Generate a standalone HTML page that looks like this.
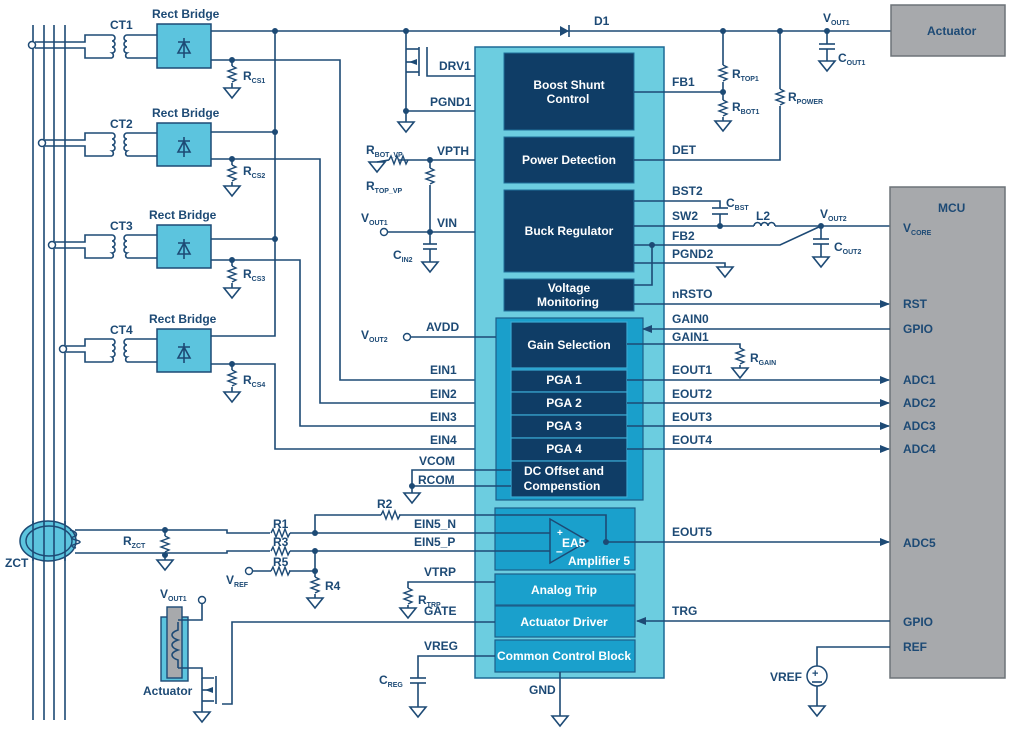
<!DOCTYPE html>
<html><head><meta charset="utf-8"><style>
body{margin:0;background:#fff}
svg{display:block}
text{font-family:"Liberation Sans",sans-serif;font-weight:bold;fill:#1d4a75;font-size:12px}
.w{fill:#fff}
.s{font-size:7px}
line,polyline,path.l{stroke:#1d4a75;stroke-width:1.6;fill:none}
.d{fill:#1d4a75}
</style></head><body>
<svg width="1022" height="740" viewBox="0 0 1022 740" xmlns="http://www.w3.org/2000/svg">
<defs>
<g id="gnd"><path d="M-8 0H8L0 10Z" style="stroke:#1d4a75;stroke-width:1.6;fill:none"/></g>
<g id="resv"><path d="M0 0l4 2-8 3 8 3-8 3 8 3-4 2" style="stroke:#1d4a75;stroke-width:1.4;fill:none"/></g>
<g id="resh"><path d="M0 0l2 -4 3 8 3-8 3 8 3-8 3 8 2-4" style="stroke:#1d4a75;stroke-width:1.4;fill:none"/></g>
<marker id="ar" markerWidth="10" markerHeight="8" refX="9" refY="4" orient="auto" markerUnits="userSpaceOnUse"><path d="M0 0L10 4L0 8Z" fill="#1d4a75"/></marker>
</defs>

<line x1="33" y1="25" x2="33" y2="720"/><line x1="44" y1="25" x2="44" y2="720"/><line x1="54" y1="25" x2="54" y2="720"/><line x1="65" y1="25" x2="65" y2="720"/>

<!-- CT1 -->
<circle cx="32" cy="45" r="3.5" fill="#fff" stroke="#1d4a75" stroke-width="1.5"/>
<polyline points="35,42 85,42 85,35 112,35"/><polyline points="35,48 85,48 85,58 112,58"/>
<path class="l" d="M112 35a3 3 0 0 1 0 6a3 3 0 0 1 0 6a3 3 0 0 1 0 6a3 3 0 0 1 0 5"/>
<path class="l" d="M127 35a3 3 0 0 0 0 6a3 3 0 0 0 0 6a3 3 0 0 0 0 6a3 3 0 0 0 0 5"/>
<polyline points="127,35 157,35"/><polyline points="127,58 157,58"/>
<text x="110" y="29">CT1</text>
<!-- CT2 -->
<circle cx="42" cy="143" r="3.5" fill="#fff" stroke="#1d4a75" stroke-width="1.5"/>
<polyline points="45,140 85,140 85,133 112,133"/><polyline points="45,146 85,146 85,156 112,156"/>
<path class="l" d="M112 133a3 3 0 0 1 0 6a3 3 0 0 1 0 6a3 3 0 0 1 0 6a3 3 0 0 1 0 5"/>
<path class="l" d="M127 133a3 3 0 0 0 0 6a3 3 0 0 0 0 6a3 3 0 0 0 0 6a3 3 0 0 0 0 5"/>
<polyline points="127,133 157,133"/><polyline points="127,156 157,156"/>
<text x="110" y="128">CT2</text>
<!-- CT3 -->
<circle cx="52" cy="245" r="3.5" fill="#fff" stroke="#1d4a75" stroke-width="1.5"/>
<polyline points="55,242 85,242 85,235 112,235"/><polyline points="55,248 85,248 85,258 112,258"/>
<path class="l" d="M112 235a3 3 0 0 1 0 6a3 3 0 0 1 0 6a3 3 0 0 1 0 6a3 3 0 0 1 0 5"/>
<path class="l" d="M127 235a3 3 0 0 0 0 6a3 3 0 0 0 0 6a3 3 0 0 0 0 6a3 3 0 0 0 0 5"/>
<polyline points="127,235 157,235"/><polyline points="127,258 157,258"/>
<text x="110" y="230">CT3</text>
<!-- CT4 -->
<circle cx="63" cy="349" r="3.5" fill="#fff" stroke="#1d4a75" stroke-width="1.5"/>
<polyline points="66,346 85,346 85,339 112,339"/><polyline points="66,352 85,352 85,362 112,362"/>
<path class="l" d="M112 339a3 3 0 0 1 0 6a3 3 0 0 1 0 6a3 3 0 0 1 0 6a3 3 0 0 1 0 5"/>
<path class="l" d="M127 339a3 3 0 0 0 0 6a3 3 0 0 0 0 6a3 3 0 0 0 0 6a3 3 0 0 0 0 5"/>
<polyline points="127,339 157,339"/><polyline points="127,362 157,362"/>
<text x="110" y="334">CT4</text>

<g fill="#5cc4de" stroke="#1d4a75" stroke-width="1.5">
<rect x="157" y="24" width="54" height="44"/><rect x="157" y="123" width="54" height="43"/>
<rect x="157" y="225" width="54" height="43"/><rect x="157" y="329" width="54" height="43"/>
</g>
<g stroke="#1d4a75" stroke-width="1.6" fill="none">
<path d="M184 38v20M178 53h12L184 42ZM178 42h12"/>
<path d="M184 137v20M178 152h12L184 141ZM178 141h12"/>
<path d="M184 239v20M178 254h12L184 243ZM178 243h12"/>
<path d="M184 343v20M178 358h12L184 347ZM178 347h12"/>
</g>
<text x="152" y="18">Rect Bridge</text><text x="152" y="117">Rect Bridge</text>
<text x="149" y="219">Rect Bridge</text><text x="149" y="323">Rect Bridge</text>

<polyline points="211,31 891,31"/>
<polyline points="211,132 275,132"/><polyline points="211,239 275,239"/><polyline points="211,336 275,336 275,31"/>
<circle class="d" cx="275" cy="31" r="3"/><circle class="d" cx="275" cy="132" r="3"/><circle class="d" cx="275" cy="239" r="3"/>
<polyline points="211,60 340,60 340,380 495,380"/>
<polyline points="211,159 320,159 320,403 495,403"/>
<polyline points="211,260 300,260 300,426 495,426"/>
<polyline points="211,364 275,364 275,449 495,449"/>
<g>
<circle class="d" cx="232" cy="60" r="3"/><line x1="232" y1="60" x2="232" y2="66"/><use href="#resv" x="232" y="66"/><line x1="232" y1="83" x2="232" y2="88"/><use href="#gnd" x="232" y="88"/>
<circle class="d" cx="232" cy="159" r="3"/><line x1="232" y1="159" x2="232" y2="165"/><use href="#resv" x="232" y="165"/><line x1="232" y1="182" x2="232" y2="186"/><use href="#gnd" x="232" y="186"/>
<circle class="d" cx="232" cy="260" r="3"/><line x1="232" y1="260" x2="232" y2="266"/><use href="#resv" x="232" y="266"/><line x1="232" y1="283" x2="232" y2="288"/><use href="#gnd" x="232" y="288"/>
<circle class="d" cx="232" cy="364" r="3"/><line x1="232" y1="364" x2="232" y2="370"/><use href="#resv" x="232" y="370"/><line x1="232" y1="387" x2="232" y2="392"/><use href="#gnd" x="232" y="392"/>
</g>
<text x="243" y="80">R<tspan class="s" dy="3">CS1</tspan></text>
<text x="243" y="175">R<tspan class="s" dy="3">CS2</tspan></text>
<text x="243" y="278">R<tspan class="s" dy="3">CS3</tspan></text>
<text x="243" y="384">R<tspan class="s" dy="3">CS4</tspan></text>

<path d="M560 26v10l9-5Z" class="d"/><line x1="569" y1="25" x2="569" y2="37"/>
<text x="594" y="25">D1</text>

<rect x="475" y="47" width="189" height="631" fill="#6ccde0" stroke="#1d6a96" stroke-width="1.5"/>
<g fill="#0f3d66" stroke="#1f6f9a">
<rect x="504" y="53" width="130" height="77"/><rect x="504" y="137" width="130" height="46"/>
<rect x="504" y="190" width="130" height="82"/><rect x="504" y="279" width="130" height="32"/>
</g>
<rect x="496" y="318" width="147" height="182" fill="#1a9fcb" stroke="#1d5f8a" stroke-width="1.2"/>
<g fill="#0f3d66" stroke="#3aa9d3" stroke-width="1.2">
<rect x="511" y="322" width="116" height="46"/><rect x="511" y="370" width="116" height="22"/>
<rect x="511" y="392" width="116" height="23"/><rect x="511" y="415" width="116" height="23"/>
<rect x="511" y="438" width="116" height="23"/><rect x="511" y="461" width="116" height="36"/>
</g>
<g fill="#1aa0cc" stroke="#1d5f8a" stroke-width="1.2">
<rect x="495" y="508" width="140" height="62"/><rect x="495" y="574" width="140" height="31"/>
<rect x="495" y="606" width="140" height="31"/><rect x="495" y="640" width="140" height="32"/>
</g>
<g text-anchor="middle">
<text class="w" x="569" y="89">Boost Shunt</text><text class="w" x="568" y="103">Control</text>
<text class="w" x="569" y="164">Power Detection</text>
<text class="w" x="569" y="235">Buck Regulator</text>
<text class="w" x="569" y="292">Voltage</text><text class="w" x="568" y="306">Monitoring</text>
<text class="w" x="569" y="349">Gain Selection</text>
<text class="w" x="564" y="384">PGA 1</text><text class="w" x="564" y="407">PGA 2</text>
<text class="w" x="564" y="430">PGA 3</text><text class="w" x="564" y="453">PGA 4</text>
<text class="w" x="564" y="475">DC Offset and</text><text class="w" x="562" y="490">Compenstion</text>
<text class="w" x="564" y="594">Analog Trip</text><text class="w" x="564" y="626">Actuator Driver</text>
<text class="w" x="564" y="660">Common Control Block</text>
</g>
<path d="M550 519v44l38-22Z" fill="#1aa0cc" stroke="#1d4a75" stroke-width="1.5"/>
<polyline points="495,515 606,515 606,541"/>
<polyline points="495,533 550,533"/><polyline points="495,551 550,551"/>
<circle class="d" cx="606" cy="542" r="3"/>
<text class="w" x="557" y="536" style="font-size:10px">+</text><text class="w" x="556" y="555">–</text>
<text class="w" x="562" y="547">EA5</text><text class="w" x="568" y="565">Amplifier 5</text>

<polyline points="406,31 406,111 475,111"/><circle class="d" cx="406" cy="31" r="3"/><circle class="d" cx="406" cy="111" r="3"/>
<line x1="406" y1="111" x2="406" y2="122"/><use href="#gnd" x="406" y="122"/>
<polyline points="406,49 419,49"/><polyline points="406,72 419,72"/><line x1="419" y1="47" x2="419" y2="76"/>
<path d="M409 62l8-3v6Z" class="d"/><line x1="406" y1="62" x2="417" y2="62"/>
<polyline points="427,47 427,76 475,76"/>
<text x="439" y="70">DRV1</text><text x="430" y="106">PGND1</text>
<polyline points="399,160 475,160"/><use href="#resh" x="389" y="160"/><circle class="d" cx="430" cy="160" r="3"/>
<use href="#gnd" x="377" y="162"/><line x1="377" y1="162" x2="389" y2="160"/>
<polyline points="430,160 430,168"/><use href="#resv" x="430" y="168"/><polyline points="430,185 430,232"/>
<text x="437" y="155">VPTH</text>
<text x="366" y="154">R<tspan class="s" dy="3">BOT_VP</tspan></text>
<text x="366" y="190">R<tspan class="s" dy="3">TOP_VP</tspan></text>
<circle cx="384" cy="232" r="3.5" fill="#fff" stroke="#1d4a75" stroke-width="1.4"/>
<polyline points="388,232 475,232"/><circle class="d" cx="430" cy="232" r="3"/>
<polyline points="430,232 430,244"/><line x1="423" y1="244" x2="437" y2="244"/><line x1="423" y1="249" x2="437" y2="249"/><polyline points="430,249 430,262"/><use href="#gnd" x="430" y="262"/>
<text x="437" y="227">VIN</text>
<text x="361" y="222">V<tspan class="s" dy="3">OUT1</tspan></text>
<text x="393" y="259">C<tspan class="s" dy="3">IN2</tspan></text>
<circle cx="407" cy="337" r="3.5" fill="#fff" stroke="#1d4a75" stroke-width="1.4"/>
<polyline points="411,337 496,337"/>
<text x="426" y="331">AVDD</text><text x="361" y="339">V<tspan class="s" dy="3">OUT2</tspan></text>
<text x="430" y="374">EIN1</text><text x="430" y="398">EIN2</text><text x="430" y="421">EIN3</text><text x="430" y="444">EIN4</text>
<polyline points="511,470 412,470 412,486 511,486"/><circle class="d" cx="412" cy="486" r="3"/><line x1="412" y1="486" x2="412" y2="493"/><use href="#gnd" x="412" y="493"/>
<text x="419" y="465">VCOM</text><text x="418" y="484">RCOM</text>

<ellipse cx="48" cy="541" rx="28" ry="20" fill="#5cc4de" stroke="#1d4a75" stroke-width="1.5"/>
<ellipse cx="49" cy="541" rx="23" ry="15" fill="none" stroke="#1d4a75" stroke-width="1.4"/>
<line x1="33" y1="521" x2="33" y2="561"/><line x1="44" y1="521" x2="44" y2="561"/><line x1="54" y1="521" x2="54" y2="561"/><line x1="65" y1="521" x2="65" y2="561"/>
<path class="l" d="M70 530q8 2 6 6 q-8 2 0 4 q8 2 0 4 q-8 2 0 4"/>
<text x="5" y="567">ZCT</text>
<polyline points="75,530 227,530 227,533 495,533"/>
<polyline points="75,553 227,553 227,551 495,551"/>
<circle class="d" cx="165" cy="530" r="3"/><circle class="d" cx="165" cy="555" r="3"/>
<line x1="165" y1="530" x2="165" y2="536"/><use href="#resv" x="165" y="536"/><line x1="165" y1="553" x2="165" y2="560"/><use href="#gnd" x="165" y="560"/>
<text x="123" y="545">R<tspan class="s" dy="3">ZCT</tspan></text>
<rect x="270" y="528" width="20" height="10" fill="#fff"/><use href="#resh" x="271" y="533"/>
<rect x="270" y="546" width="20" height="10" fill="#fff"/><use href="#resh" x="271" y="551"/>
<text x="273" y="528">R1</text><text x="273" y="546">R3</text><text x="273" y="566">R5</text>
<circle class="d" cx="315" cy="533" r="3"/><circle class="d" cx="315" cy="551" r="3"/><circle class="d" cx="315" cy="571" r="3"/>
<polyline points="315,533 315,515 381,515"/><use href="#resh" x="381" y="515"/><polyline points="399,515 495,515"/>
<text x="377" y="508">R2</text>
<circle cx="249" cy="571" r="3.5" fill="#fff" stroke="#1d4a75" stroke-width="1.4"/>
<polyline points="253,571 271,571"/><use href="#resh" x="271" y="571"/><polyline points="289,571 315,571 315,551"/>
<polyline points="315,571 315,577"/><use href="#resv" x="315" y="577"/><line x1="315" y1="594" x2="315" y2="598"/><use href="#gnd" x="315" y="598"/>
<text x="325" y="590">R4</text>
<text x="226" y="584">V<tspan class="s" dy="3">REF</tspan></text>
<text x="414" y="528">EIN5_N</text><text x="414" y="546">EIN5_P</text>

<polyline points="495,582 408,582 408,588"/><use href="#resv" x="408" y="588"/><line x1="408" y1="605" x2="408" y2="608"/><use href="#gnd" x="408" y="608"/>
<text x="424" y="576">VTRP</text><text x="418" y="604">R<tspan class="s" dy="3">TRP</tspan></text>
<text x="424" y="615">GATE</text>
<polyline points="495,622 232,622 232,704 222,704"/>
<polyline points="495,656 418,656 418,678"/><line x1="410" y1="678" x2="426" y2="678"/><line x1="410" y1="683" x2="426" y2="683"/><polyline points="418,683 418,707"/><use href="#gnd" x="418" y="707"/>
<text x="424" y="650">VREG</text><text x="379" y="684">C<tspan class="s" dy="3">REG</tspan></text>
<polyline points="560,672 560,716"/><use href="#gnd" x="560" y="716"/><text x="529" y="694">GND</text>

<rect x="161" y="617" width="27" height="64" fill="#5cc4de" stroke="#1d4a75" stroke-width="1.4"/>
<rect x="167" y="607" width="15" height="71" fill="#a7a9ac" stroke="#1d4a75" stroke-width="1.4"/>
<path class="l" d="M178 622v8q-6 2-6 5t6 5q-6 2-6 5t6 5q-6 2-6 5t6 5v8"/>
<polyline points="178,620 202,620 202,604"/><circle cx="202" cy="600" r="3.5" fill="#fff" stroke="#1d4a75" stroke-width="1.4"/>
<polyline points="178,668 202,668 202,678 214,678"/><line x1="216" y1="676" x2="216" y2="704"/>
<polyline points="202,678 202,712"/><polyline points="202,701 214,701"/><path d="M205 690l8-3v6Z" class="d"/><line x1="202" y1="690" x2="213" y2="690"/>
<use href="#gnd" x="202" y="712"/>
<text x="160" y="598">V<tspan class="s" dy="3">OUT1</tspan></text>
<text x="143" y="695">Actuator</text>

<rect x="891" y="5" width="114" height="51" fill="#a7a9ac" stroke="#6d7378" stroke-width="1.5"/>
<text x="927" y="35">Actuator</text>
<circle class="d" cx="723" cy="31" r="3"/><circle class="d" cx="780" cy="31" r="3"/><circle class="d" cx="827" cy="31" r="3"/>
<polyline points="723,31 723,65"/><use href="#resv" x="723" y="65"/><circle class="d" cx="723" cy="92" r="3"/>
<polyline points="723,82 723,100"/><use href="#resv" x="723" y="100"/><line x1="723" y1="117" x2="723" y2="121"/><use href="#gnd" x="723" y="121"/>
<polyline points="634,92 723,92"/>
<text x="672" y="86">FB1</text>
<text x="732" y="78">R<tspan class="s" dy="3">TOP1</tspan></text><text x="732" y="111">R<tspan class="s" dy="3">BOT1</tspan></text>
<polyline points="780,31 780,89"/><use href="#resv" x="780" y="89"/><polyline points="780,106 780,160 634,160"/>
<text x="788" y="101">R<tspan class="s" dy="3">POWER</tspan></text><text x="672" y="154">DET</text>
<line x1="827" y1="31" x2="827" y2="44"/><line x1="819" y1="44" x2="835" y2="44"/><line x1="819" y1="49" x2="835" y2="49"/><line x1="827" y1="49" x2="827" y2="61"/><use href="#gnd" x="827" y="61"/>
<text x="823" y="22">V<tspan class="s" dy="3">OUT1</tspan></text><text x="838" y="62">C<tspan class="s" dy="3">OUT1</tspan></text>

<polyline points="634,201 720,201 720,208"/><line x1="712" y1="208" x2="728" y2="208"/><line x1="712" y1="214" x2="728" y2="214"/><line x1="720" y1="214" x2="720" y2="226"/>
<circle class="d" cx="720" cy="226" r="3"/>
<polyline points="634,226 754,226"/><path class="l" d="M754 226a3.5 3.5 0 0 1 7 0a3.5 3.5 0 0 1 7 0a3.5 3.5 0 0 1 7 0"/><polyline points="775,226 891,226"/>
<circle class="d" cx="821" cy="226" r="3"/>
<polyline points="634,245 780,245 821,226"/><circle class="d" cx="652" cy="245" r="3"/><polyline points="652,245 652,285 634,285"/>
<line x1="821" y1="226" x2="821" y2="239"/><line x1="813" y1="239" x2="829" y2="239"/><line x1="813" y1="244" x2="829" y2="244"/><line x1="821" y1="244" x2="821" y2="257"/><use href="#gnd" x="821" y="257"/>
<polyline points="634,263 725,263 725,267"/><use href="#gnd" x="725" y="267"/>
<text x="672" y="195">BST2</text><text x="672" y="220">SW2</text><text x="672" y="240">FB2</text><text x="672" y="258">PGND2</text>
<text x="726" y="207">C<tspan class="s" dy="3">BST</tspan></text><text x="756" y="220">L2</text>
<text x="820" y="218">V<tspan class="s" dy="3">OUT2</tspan></text><text x="834" y="251">C<tspan class="s" dy="3">OUT2</tspan></text>

<rect x="890" y="187" width="115" height="491" fill="#a7a9ac" stroke="#6d7378" stroke-width="1.5"/>
<text x="938" y="212">MCU</text>
<text x="903" y="232">V<tspan class="s" dy="3">CORE</tspan></text>
<text x="903" y="308">RST</text><text x="903" y="333">GPIO</text>
<text x="903" y="384">ADC1</text><text x="903" y="407">ADC2</text><text x="903" y="430">ADC3</text><text x="903" y="453">ADC4</text>
<text x="903" y="547">ADC5</text><text x="903" y="626">GPIO</text><text x="903" y="651">REF</text>

<polyline points="634,304 889,304" marker-end="url(#ar)"/>
<polyline points="890,329 643,329" marker-end="url(#ar)"/>
<polyline points="627,344 740,344 740,348"/><use href="#resv" x="740" y="348"/><line x1="740" y1="365" x2="740" y2="368"/><use href="#gnd" x="740" y="368"/>
<text x="672" y="298">nRSTO</text><text x="672" y="323">GAIN0</text><text x="672" y="341">GAIN1</text>
<text x="750" y="362">R<tspan class="s" dy="3">GAIN</tspan></text>
<polyline points="627,380 889,380" marker-end="url(#ar)"/>
<polyline points="627,403 889,403" marker-end="url(#ar)"/>
<polyline points="627,426 889,426" marker-end="url(#ar)"/>
<polyline points="627,449 889,449" marker-end="url(#ar)"/>
<polyline points="606,542 889,542" marker-end="url(#ar)"/>
<text x="672" y="374">EOUT1</text><text x="672" y="398">EOUT2</text><text x="672" y="421">EOUT3</text><text x="672" y="444">EOUT4</text><text x="672" y="536">EOUT5</text>
<polyline points="890,621 637,621" marker-end="url(#ar)"/><text x="672" y="615">TRG</text>
<polyline points="890,647 817,647 817,666"/><circle cx="817" cy="676" r="10" fill="#fff" stroke="#1d4a75" stroke-width="1.5"/>
<text x="812" y="677" style="font-size:11px">+</text><line x1="812" y1="682" x2="822" y2="682"/>
<line x1="817" y1="686" x2="817" y2="706"/><use href="#gnd" x="817" y="706"/>
<text x="770" y="681">VREF</text>
</svg>
</body></html>
